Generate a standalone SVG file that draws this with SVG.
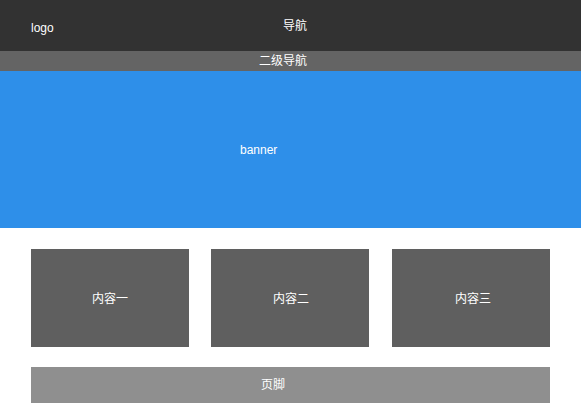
<svg xmlns="http://www.w3.org/2000/svg" width="581" height="403" viewBox="0 0 581 403">
<style>
text{font-family:"Liberation Sans","Noto Sans CJK SC",sans-serif;font-size:12px;fill:#ffffff;dominant-baseline:central}
.c{text-anchor:middle}
.box{fill:#5f5f5f}
</style>
<rect width="581" height="403" fill="#ffffff"/>
<g id="header">
<rect x="0" y="0" width="581" height="51" fill="#323232"/>
<text x="31" y="28">logo</text>
<text class="c" x="295" y="26">导航</text>
</g>
<g id="subnav">
<rect x="0" y="51" width="581" height="20" fill="#646464"/>
<text class="c" x="283" y="61">二级导航</text>
</g>
<g id="banner">
<rect x="0" y="71" width="581" height="157" fill="#2e8fe9"/>
<text x="240" y="150">banner</text>
</g>
<g id="content1">
<rect class="box" x="31" y="249" width="158" height="98"/>
<text class="c" x="110" y="299">内容一</text>
</g>
<g id="content2">
<rect class="box" x="211" y="249" width="158" height="98"/>
<text class="c" x="291" y="299">内容二</text>
</g>
<g id="content3">
<rect class="box" x="392" y="249" width="158" height="98"/>
<text class="c" x="473" y="299">内容三</text>
</g>
<g id="footer">
<rect x="31" y="367" width="519" height="36" fill="#8f8f8f"/>
<text class="c" x="273" y="385">页脚</text>
</g>
<g id="connectors"></g>
</svg>
